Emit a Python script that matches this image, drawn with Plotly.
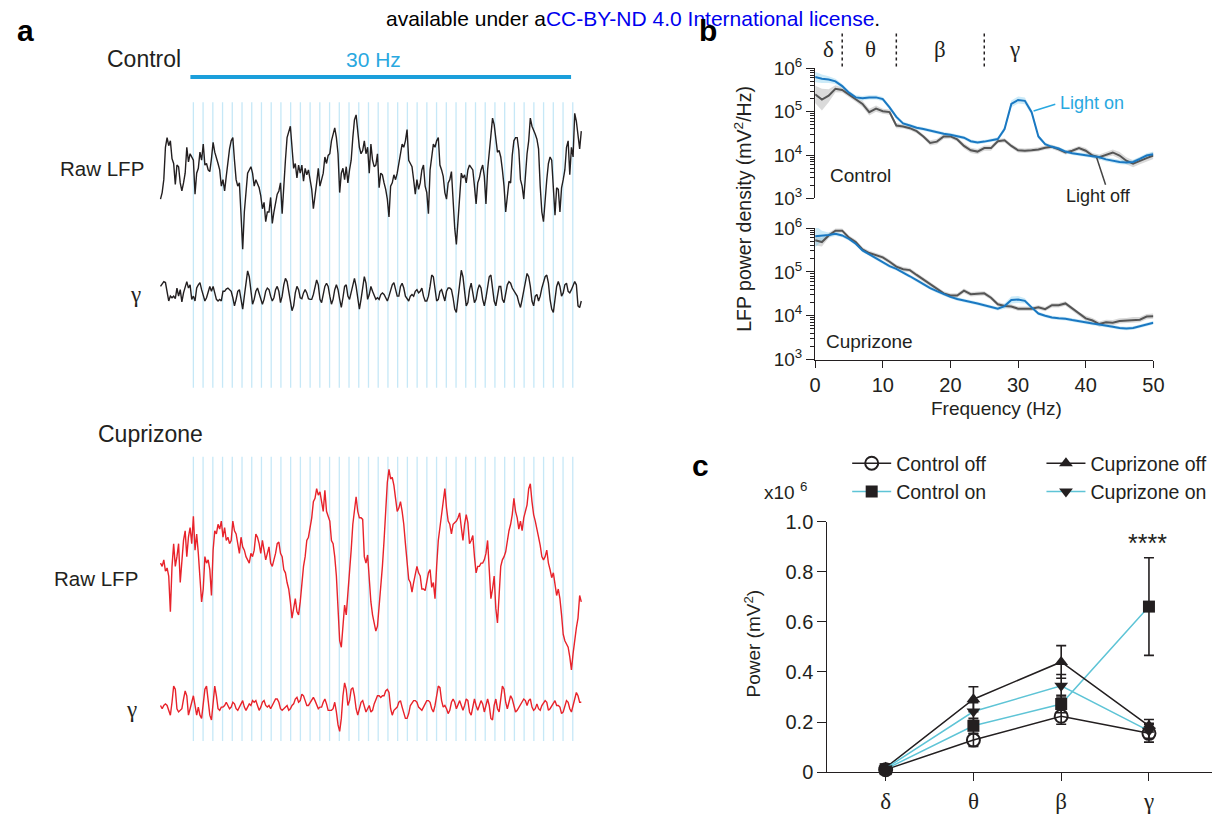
import plotly.graph_objects as go

W, H = 1228, 821
def X(px): return px / W
def Y(py): return 1 - py / H

# ================= DATA =================
# panel a: LFP traces, read as downward deflection (arbitrary units), uniform sampling
sample_interval_ms = 5.632
trace_start_ms = -112.6
flash_times_ms = [0, 33.3, 66.7, 100, 133.3, 166.7, 200, 233.3, 266.7, 300, 333.3, 366.7, 400,
                  433.3, 466.7, 500, 533.3, 566.7, 600, 633.3, 666.7, 700, 733.3, 766.7, 800,
                  833.3, 866.7, 900, 933.3, 966.7, 1000, 1033.3, 1066.7, 1100, 1133.3, 1166.7,
                  1200, 1233.3, 1266.7, 1300]

ctrl_raw = [290,270,230,130,100,125,110,165,180,245, 185,190,240,265,240,210,130,175,150,160,
            170,275,210,195,145,170,120,185,180,200, 205,165,115,145,160,180,200,250,230,265,
            220,170,135,110,100,170,230,250,240,340, 445,330,255,210,200,190,210,250,230,245,
            255,280,320,300,360,330,330,285,365,330, 300,275,265,240,335,230,170,100,85,65,
            130,195,180,225,185,210,185,235,195,215, 200,225,260,320,270,240,195,250,230,210,
            160,180,155,150,110,85,70,100,150,270, 210,195,230,190,240,200,170,100,45,30,
            90,130,150,140,110,150,130,
            210,120,170,190,185,150,255,210,215,240, 260,290,345,250,240,215,230,210,180,150,
            120,130,110,75,170,180,190,230,275,230, 260,240,200,185,250,270,335,200,160,120,
            130,110,100,185,200,220,270,290,240,230, 205,300,380,430,360,300,210,225,215,240,
            200,185,195,200,250,305,240,225,200,185, 220,305,200,150,100,40,60,110,145,140,
            160,200,250,330,280,235,240,155,110,100, 100,140,230,250,290,200,150,110,40,65,
            75,90,105,135,250,330,360,285,230,180, 160,170,240,340,255,260,330,255,230,200,
            130,110,215,130,160,25,50,85,135,80]

ctrl_gamma = [560,550,545,548,580,605,590,595,590,598, 565,590,570,608,580,560,545,565,555,600,
              590,605,565,555,548,570,590,605,595,575, 560,575,560,580,600,605,600,605,575,575,
              568,565,570,575,595,620,600,575,570,600, 630,590,540,512,530,585,615,600,575,565,
              580,600,615,600,575,565,570,590,605,595, 570,560,575,610,590,555,535,545,580,615,
              635,620,580,560,570,595,598,580,570,580, 598,600,600,585,565,540,555,600,610,585,
              560,550,560,590,615,600,570,555,570,600, 625,595,560,555,590,600,575,555,535,560,
              600,630,600,560,530,550,600,
              585,560,575,590,600,595,600,585,580,585, 598,605,590,575,555,548,575,590,590,560,
              550,565,590,600,605,590,585,590,575,570, 580,575,565,590,605,605,590,560,525,530,
              570,605,600,575,570,590,605,575,565,565, 570,595,630,640,590,540,510,530,585,620,
              610,570,550,575,610,600,570,555,565,600, 620,595,560,530,525,560,605,620,590,560,
              560,600,610,580,555,545,550,565,575,580, 590,610,625,600,570,540,520,530,560,605,
              620,590,585,605,590,565,545,530,525,550, 600,630,640,600,560,545,560,590,580,555,
              550,575,580,570,560,545,555,620,625,605]

cup_raw = [320,330,310,345,335,360,470,330,260,330, 300,260,380,310,250,220,300,240,210,260,
           175,280,230,290,380,440,400,300,320,310, 340,420,280,220,230,200,215,190,240,210,
           250,240,260,250,190,220,230,265,290,240, 270,280,300,310,320,290,300,280,230,240,
           260,290,250,280,310,290,270,320,330,310, 290,260,255,290,300,340,350,380,400,440,
           490,460,430,470,480,440,380,330,300,250, 240,210,180,130,120,90,110,100,130,160,
           95,160,175,190,250,260,300,360,460,560, 580,500,450,480,420,340,280,200,150,115,
           160,180,180,185,300,320,295,
           380,440,480,505,530,515,460,400,330,250, 150,70,30,60,55,80,120,160,150,130,
           160,200,260,320,370,380,410,380,350,330, 350,360,400,400,405,380,350,340,395,380,
           430,330,250,210,170,140,90,150,190,200, 230,200,195,190,180,165,210,250,200,170,
           195,260,250,235,300,350,330,330,320,320, 310,290,250,340,430,400,360,460,505,420,
           330,310,300,285,250,220,200,170,120,160, 180,215,190,220,180,160,140,90,75,130,
           170,190,220,240,265,300,310,300,280,320, 340,365,350,380,420,400,430,480,540,560,
           570,580,610,650,600,550,520,490,420,440]

cup_gamma = [760,770,760,755,760,775,790,750,700,710, 770,780,775,770,740,715,730,790,770,745,
             730,760,790,765,790,800,760,710,700,750, 790,805,740,700,730,770,775,765,765,760,
             750,760,770,765,750,755,770,775,765,750, 745,765,775,765,755,760,745,750,745,760,
             775,765,750,745,760,765,760,770,760,750, 740,740,750,770,775,770,765,760,775,770,
             760,755,740,735,750,745,725,730,745,760, 760,750,740,735,745,760,770,765,765,750,
             740,755,775,775,775,770,750,780,820,840, 800,730,690,710,760,745,710,705,730,770,
             790,770,750,745,760,780,770,
             760,780,775,755,745,730,730,735,730,730, 715,710,720,770,790,775,770,765,750,745,
             765,785,800,800,785,760,750,745,745,750, 765,770,775,765,755,745,745,750,770,780,
             760,730,700,705,745,765,760,770,785,775, 750,740,750,770,760,745,760,775,760,740,
             745,780,790,760,740,760,775,760,745,755, 780,760,740,760,800,805,760,740,770,780,
             730,700,710,750,770,745,730,740,765,780, 775,765,755,745,740,745,760,745,740,765,
             775,770,755,770,775,760,750,745,750,775, 770,760,750,745,760,760,765,785,780,760,
             745,750,770,780,760,735,720,730,750,750]

# panel b: LFP power spectral density, log10(mV^2/Hz), 0..50 Hz in 1 Hz steps
freq_hz = list(range(0, 51))
ctrl_on_log = [5.80,5.76,5.74,5.70,5.59,5.44,5.33,5.31,5.33,5.33, 5.29,5.10,4.88,4.73,4.68,4.63,4.60,4.56,4.52,4.49,
               4.47,4.43,4.40,4.32,4.29,4.31,4.34,4.37,4.60,5.18, 5.27,5.25,4.99,4.43,4.25,4.19,4.15,4.08,4.04,4.02,
               3.99,3.97,3.95,3.90,3.87,3.84,3.83,3.84,3.91,3.99,4.02]
ctrl_off_log = [5.40,5.28,5.37,5.53,5.50,5.40,5.29,5.18,4.99,5.07, 5.01,4.99,4.68,4.66,4.62,4.55,4.43,4.28,4.31,4.43,
                4.43,4.36,4.21,4.11,4.08,4.16,4.16,4.32,4.34,4.21, 4.11,4.10,4.11,4.13,4.17,4.19,4.13,4.06,4.10,4.16,
                4.10,3.99,3.95,4.01,4.06,3.99,3.87,3.80,3.87,3.93,3.99]
cup_on_log = [5.81,5.82,5.84,5.87,5.83,5.75,5.64,5.49,5.40,5.31, 5.21,5.13,5.07,4.99,4.90,4.81,4.72,4.63,4.56,4.49,
              4.43,4.38,4.35,4.32,4.28,4.24,4.20,4.16,4.22,4.36, 4.37,4.34,4.19,4.05,4.00,3.96,3.94,3.93,3.90,3.87,
              3.84,3.82,3.80,3.78,3.75,3.72,3.71,3.72,3.76,3.81,3.84]
cup_off_log = [5.72,5.68,5.83,5.94,5.94,5.78,5.68,5.51,5.43,5.38, 5.33,5.23,5.12,5.06,5.04,4.93,4.82,4.72,4.60,4.51,
               4.46,4.46,4.57,4.49,4.50,4.51,4.41,4.26,4.22,4.21, 4.16,4.16,4.16,4.19,4.15,4.24,4.24,4.28,4.16,4.04,
               3.94,3.89,3.81,3.85,3.84,3.88,3.89,3.91,3.91,3.98,3.99]
ctrl_on_sem = [0.12,0.10,0.08,0.06,0.05,0.05,0.05,0.05,0.05,0.05, 0.05,0.05,0.05,0.04,0.04,0.04,0.04,0.04,0.04,0.04,
               0.04,0.04,0.04,0.04,0.04,0.04,0.04,0.04,0.06,0.08, 0.08,0.08,0.06,0.05,0.04,0.04,0.04,0.04,0.04,0.04,
               0.04,0.04,0.05,0.05,0.05,0.05,0.05,0.05,0.05,0.05,0.06]
ctrl_off_sem = [0.20,0.25,0.15,0.08,0.06,0.06,0.06,0.07,0.08,0.07, 0.06,0.06,0.06,0.05,0.05,0.05,0.05,0.06,0.06,0.06,
                0.05,0.05,0.06,0.06,0.06,0.06,0.06,0.05,0.05,0.05, 0.05,0.05,0.05,0.05,0.05,0.05,0.05,0.05,0.05,0.05,
                0.06,0.06,0.06,0.06,0.07,0.08,0.08,0.08,0.08,0.08,0.08]
cup_on_sem = [0.25,0.12,0.06,0.05,0.04,0.04,0.04,0.04,0.04,0.04, 0.04,0.04,0.04,0.04,0.04,0.04,0.04,0.04,0.04,0.04,
              0.04,0.04,0.04,0.04,0.04,0.04,0.04,0.04,0.06,0.08, 0.08,0.06,0.04,0.04,0.04,0.04,0.04,0.04,0.04,0.04,
              0.04,0.04,0.04,0.04,0.04,0.04,0.04,0.04,0.04,0.04,0.04]
cup_off_sem = [0.12,0.10,0.06,0.05,0.05,0.05,0.05,0.05,0.05,0.05, 0.05,0.05,0.05,0.05,0.05,0.05,0.05,0.05,0.05,0.05,
               0.05,0.05,0.05,0.05,0.05,0.05,0.05,0.05,0.05,0.05, 0.05,0.05,0.05,0.05,0.05,0.05,0.05,0.05,0.05,0.05,
               0.06,0.06,0.06,0.06,0.06,0.06,0.06,0.06,0.06,0.06,0.06]
band_edges_hz = [4, 12, 25]
band_label_hz = [2.0, 8.2, 18.4, 29.5]
band_names = ['δ', 'θ', 'β', 'γ']

# panel c: band power (x10^6 mV^2)
c_ctrl_off = [0.010, 0.128, 0.223, 0.155]
c_ctrl_off_sem = [0.005, 0.025, 0.032, 0.035]
c_ctrl_on = [0.012, 0.185, 0.272, 0.661]
c_ctrl_on_sem = [0.005, 0.030, 0.035, 0.195]
c_cup_off = [0.018, 0.291, 0.440, 0.185]
c_cup_off_sem = [0.008, 0.050, 0.065, 0.025]
c_cup_on = [0.015, 0.242, 0.345, 0.165]
c_cup_on_sem = [0.006, 0.035, 0.045, 0.030]

# ================= STYLE =================
INK = '#231f20'
BLUE = '#1a78c2'
LIGHTBLUE_TXT = '#29a8e0'
CYAN = '#5ec4d6'
RED = '#e8232b'
STIM = '#c6e8f7'
SANS = 'Liberation Sans, Arial, sans-serif'
SERIF = 'Liberation Serif, Times New Roman, serif'

fig = go.Figure()

def times(n):
    return [trace_start_ms + i * sample_interval_ms for i in range(n)]

# ---- panel a traces ----
for vals, ax, col in [(ctrl_raw, 1, INK), (ctrl_gamma, 2, INK), (cup_raw, 3, RED), (cup_gamma, 4, RED)]:
    fig.add_trace(go.Scatter(x=times(len(vals)), y=[-v for v in vals], mode='lines',
                             line=dict(color=col, width=1.4), showlegend=False, hoverinfo='skip',
                             xaxis='x' if ax == 1 else f'x{ax}', yaxis='y' if ax == 1 else f'y{ax}'))

# ---- panel b PSD ----
def psd(logv, sem, band, ax):
    up = [10 ** (v + s) for v, s in zip(logv, sem)]
    lo = [10 ** (v - s) for v, s in zip(logv, sem)]
    fig.add_trace(go.Scatter(x=freq_hz, y=up, mode='lines', line=dict(width=0), showlegend=False,
                             hoverinfo='skip', xaxis=f'x{ax}', yaxis=f'y{ax}'))
    fig.add_trace(go.Scatter(x=freq_hz, y=lo, mode='lines', line=dict(width=0), fill='tonexty',
                             fillcolor=band, showlegend=False, hoverinfo='skip', xaxis=f'x{ax}', yaxis=f'y{ax}'))

GRAYBAND = 'rgba(150,150,150,0.35)'
BLUEBAND = 'rgba(130,205,238,0.40)'
psd(ctrl_off_log, ctrl_off_sem, GRAYBAND, 5)
psd(ctrl_on_log, ctrl_on_sem, BLUEBAND, 5)
psd(cup_off_log, cup_off_sem, GRAYBAND, 6)
psd(cup_on_log, cup_on_sem, BLUEBAND, 6)
for logv, col, ax in [(ctrl_off_log, '#555555', 5), (ctrl_on_log, BLUE, 5),
                      (cup_off_log, '#555555', 6), (cup_on_log, BLUE, 6)]:
    fig.add_trace(go.Scatter(x=freq_hz, y=[10 ** v for v in logv], mode='lines',
                             line=dict(color=col, width=2), showlegend=False, hoverinfo='skip',
                             xaxis=f'x{ax}', yaxis=f'y{ax}'))

# ---- panel c ----
cx = [0, 1, 2, 3]
for name, vals, sem, lcol, sym, leg in [
        ('Control off', c_ctrl_off, c_ctrl_off_sem, INK, 'circle-open', 'legend'),
        ('Control on', c_ctrl_on, c_ctrl_on_sem, CYAN, 'square', 'legend'),
        ('Cuprizone off', c_cup_off, c_cup_off_sem, INK, 'triangle-up', 'legend2'),
        ('Cuprizone on', c_cup_on, c_cup_on_sem, CYAN, 'triangle-down', 'legend2')]:
    fig.add_trace(go.Scatter(
        x=cx, y=vals, name=name, mode='lines+markers', legend=leg,
        line=dict(color=lcol, width=1.5),
        marker=dict(symbol=sym, size=12 if sym != 'circle-open' else 13, color=INK,
                    line=dict(color=INK, width=2 if sym == 'circle-open' else 0)),
        error_y=dict(type='data', array=sem, color=INK, thickness=1.6, width=5),
        cliponaxis=False, xaxis='x7', yaxis='y7'))

# ================= LAYOUT =================
t_lo = (150 - 190) * 3.379
t_hi = (590 - 190) * 3.379
hidden = dict(visible=False, showgrid=False, zeroline=False)
layout = dict(
    width=W, height=H, margin=dict(l=0, r=0, t=0, b=0),
    paper_bgcolor='white', plot_bgcolor='rgba(0,0,0,0)',
    font=dict(family=SANS, color=INK, size=18),
    xaxis=dict(domain=[X(150), X(590)], range=[t_lo, t_hi], anchor='y', **hidden),
    yaxis=dict(domain=[Y(95 + 470 / 3), Y(95)], range=[-470, 0], anchor='x', **hidden),
    xaxis2=dict(domain=[X(150), X(590)], range=[t_lo, t_hi], anchor='y2', **hidden),
    yaxis2=dict(domain=[Y(95 + 660 / 3), Y(95 + 490 / 3)], range=[-660, -490], anchor='x2', **hidden),
    xaxis3=dict(domain=[X(150), X(590)], range=[t_lo, t_hi], anchor='y3', **hidden),
    yaxis3=dict(domain=[Y(460 + 670 / 3), Y(460)], range=[-670, 0], anchor='x3', **hidden),
    xaxis4=dict(domain=[X(150), X(590)], range=[t_lo, t_hi], anchor='y4', **hidden),
    yaxis4=dict(domain=[Y(460 + 860 / 3), Y(460 + 680 / 3)], range=[-860, -680], anchor='x4', **hidden),
)

minor_vals = [m * 10 ** k for k in (3, 4, 5) for m in range(2, 10)]
def logy(dom, anchor):
    return dict(domain=dom, type='log', range=[3, 6], anchor=anchor,
                tickvals=[1e3, 1e4, 1e5, 1e6],
                ticktext=['10<sup>3</sup>', '10<sup>4</sup>', '10<sup>5</sup>', '10<sup>6</sup>'],
                ticks='outside', ticklen=8, tickwidth=1.3, tickcolor=INK,
                showline=True, linecolor=INK, linewidth=1.3, showgrid=False, zeroline=False,
                tickfont=dict(size=19, color=INK),
                minor=dict(tickvals=minor_vals, ticks='outside', ticklen=4, tickwidth=1, tickcolor=INK))

layout['xaxis5'] = dict(domain=[X(820.5), X(1163.5)], range=[0, 50], anchor='y5', visible=False,
                        showgrid=False, zeroline=False)
layout['yaxis5'] = logy([Y(191), Y(57)], 'x5')
layout['xaxis6'] = dict(domain=[X(820.5), X(1163.5)], range=[0, 50], anchor='y6',
                        tickvals=[0, 10, 20, 30, 40, 50], ticks='outside', ticklen=7, tickwidth=1.3,
                        tickcolor=INK, showline=True, linecolor=INK, linewidth=1.3, showgrid=False,
                        zeroline=False, tickfont=dict(size=20, color=INK))
layout['yaxis6'] = logy([Y(357), Y(221.5)], 'x6')

px_per_cat = 89.0
layout['xaxis7'] = dict(domain=[X(833), X(1223)],
                        range=[(833 - 892) / px_per_cat, (1223 - 892) / px_per_cat], anchor='y7',
                        tickvals=cx, ticktext=band_names, ticks='outside', ticklen=8, tickwidth=1.3,
                        tickcolor=INK, showline=True, linecolor=INK, linewidth=1.3, showgrid=False,
                        zeroline=False, tickfont=dict(family=SERIF, size=23, color=INK))
layout['yaxis7'] = dict(domain=[Y(782), Y(524)], range=[0, 1], anchor='x7',
                        tickvals=[0, 0.2, 0.4, 0.6, 0.8, 1.0],
                        ticktext=['0', '0.2', '0.4', '0.6', '0.8', '1.0'],
                        ticks='outside', ticklen=9, tickwidth=1.3, tickcolor=INK,
                        showline=True, linecolor=INK, linewidth=1.3, showgrid=False, zeroline=False,
                        tickfont=dict(size=20, color=INK))

layout['legend'] = dict(x=X(853), y=Y(444), xanchor='left', yanchor='top', bgcolor='rgba(0,0,0,0)',
                        font=dict(size=19.5, color=INK), itemwidth=39, tracegroupgap=0,
                        traceorder='normal')
layout['legend2'] = dict(x=X(1050), y=Y(444), xanchor='left', yanchor='top', bgcolor='rgba(0,0,0,0)',
                         font=dict(size=19.5, color=INK), itemwidth=39, tracegroupgap=0,
                         traceorder='normal')
fig.update_layout(**layout)

# ---- shapes ----
shapes = []
for t in flash_times_ms:
    shapes.append(dict(type='line', xref='x', yref='paper', x0=t, x1=t, y0=Y(386), y1=Y(92),
                       line=dict(color=STIM, width=1.3), layer='below'))
    shapes.append(dict(type='line', xref='x3', yref='paper', x0=t, x1=t, y0=Y(750), y1=Y(457),
                       line=dict(color=STIM, width=1.3), layer='below'))
shapes.append(dict(type='line', xref='paper', yref='paper', x0=X(187), x1=X(573), y0=Y(66), y1=Y(66),
                   line=dict(color='#1b9fdb', width=4)))
for f in band_edges_hz:
    shapes.append(dict(type='line', xref='x5', yref='paper', x0=f, x1=f, y0=Y(55), y1=Y(18),
                       line=dict(color=INK, width=1.5, dash='dot')))
shapes.append(dict(type='line', xref='paper', yref='paper', x0=X(1064), y0=Y(94), x1=X(1042), y1=Y(101),
                   line=dict(color=LIGHTBLUE_TXT, width=1.5)))
shapes.append(dict(type='line', xref='paper', yref='paper', x0=X(1115), y0=Y(177), x1=X(1106), y1=Y(149),
                   line=dict(color='#444', width=1.5)))
fig.update_layout(shapes=shapes)

# ---- annotations ----
def txt(s, x, y, size=19, color=INK, family=SANS, xanchor='center', angle=0, bold=False):
    if bold:
        s = f'<b>{s}</b>'
    fig.add_annotation(text=s, x=X(x), y=Y(y), xref='paper', yref='paper', showarrow=False,
                       xanchor=xanchor, yanchor='middle', textangle=angle,
                       font=dict(size=size, color=color, family=family))

txt("available under a<span style='color:#0000ee'>CC-BY-ND 4.0 International license</span>.",
    636, 6, size=21, color='#000')
txt('a', 20, 18, size=30, bold=True, color='#000')
txt('b', 712, 18, size=30, bold=True, color='#000')
txt('c', 704, 466, size=30, bold=True, color='#000')

txt('Control', 140, 47, size=23)
txt('30 Hz', 373, 48, size=21, color=LIGHTBLUE_TXT)
txt('Raw LFP', 142, 160, size=20.5, xanchor='right')
txt('γ', 131, 290, size=23, family=SERIF)
txt('Cuprizone', 147, 434, size=23)
txt('Raw LFP', 136, 583, size=20.5, xanchor='right')
txt('γ', 127, 717, size=23, family=SERIF)

for name, f in zip(band_names, band_label_hz):
    fig.add_annotation(text=name, x=f, y=Y(38), xref='x5', yref='paper', showarrow=False,
                       xanchor='center', yanchor='middle', font=dict(size=23, color=INK, family=SERIF))
txt('Control', 866, 167, size=19)
txt('Cuprizone', 876, 338, size=19)
txt('Light on', 1101, 93, size=18, color=LIGHTBLUE_TXT)
txt('Light off', 1108, 189, size=18)
txt('LFP power density (mV<sup>2</sup>/Hz)', 747, 202, size=19.5, angle=-90)
txt('Frequency (Hz)', 1004, 407, size=19)

txt('x10 <sup>6</sup>', 790, 492, size=19)
txt('Power (mV<sup>2</sup>)', 757, 650, size=19, angle=-90)
txt('****', 1158, 546, size=25)

POST = ("var gd=document.getElementById('{plot_id}');"
        "gd.style.overflow='hidden';"
        "if(gd.parentElement){gd.parentElement.style.overflow='hidden';"
        "gd.parentElement.style.width='1228px';gd.parentElement.style.height='821px';}"
        "document.documentElement.style.overflow='hidden';"
        "document.body.style.margin='0px';document.body.style.overflow='hidden';"
        "var c=gd.querySelectorAll('.svg-container, .main-svg');"
        "for(var i=0;i<c.length;i++){c[i].style.overflow='hidden';}")
fig.write_html('out.html', config={'displayModeBar': False}, post_script=POST)
